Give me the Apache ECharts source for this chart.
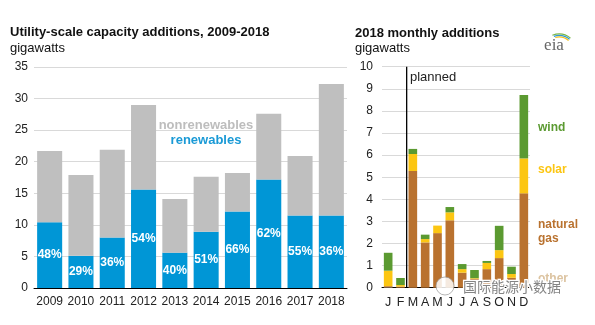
<!DOCTYPE html>
<html><head><meta charset="utf-8">
<script src="https://cdn.jsdelivr.net/npm/echarts@6/dist/echarts.min.js"></script>
<style>html,body{margin:0;padding:0;background:#fff}#c{width:595px;height:325px}</style>
</head><body><div id="c"></div>
<script>
// ---- Left chart data (gigawatts) ----
const years = ['2009','2010','2011','2012','2013','2014','2015','2016','2017','2018'];
const renewables = [10.4, 5.1, 8.0, 15.6, 5.6, 8.9, 12.1, 17.2, 11.5, 11.5];
const nonrenewables = [11.3, 12.8, 13.9, 13.4, 8.5, 8.7, 6.1, 10.4, 9.4, 20.8];
const renewableShare = [48, 29, 36, 54, 40, 51, 66, 62, 55, 36];

// ---- Right chart data (gigawatts) ----
const months = ['J','F','M','A','M','J','J','A','S','O','N','D'];
const other = [0.02, 0.0, 0.0, 0.0, 0.0, 0.0, 0.0, 0.0, 0.0, 0.0, 0.05, 0.0];
const naturalGas = [0.05, 0.05, 5.28, 2.05, 2.47, 3.05, 0.68, 0.40, 0.84, 1.34, 0.40, 4.27];
const solar = [0.70, 0.07, 0.77, 0.15, 0.34, 0.36, 0.16, 0.03, 0.28, 0.36, 0.17, 1.58];
const wind = [0.81, 0.32, 0.23, 0.20, 0.00, 0.24, 0.23, 0.37, 0.09, 1.10, 0.33, 2.87];
const plannedFrom = 2; // planned additions start with March (month index 2)

const FONT = '"Liberation Sans", Arial, sans-serif';
const BLUE = '#0096d6', GRAY = '#bfbfbf';
const GAS = '#b9722f', SOLAR = '#fcc612', WIND = '#5b9a31', OTHER = '#dcc3a0';

const chart = echarts.init(document.getElementById('c'), null, {renderer: 'canvas'});

const catAxisCommon = {
  type: 'category',
  axisLine: {lineStyle: {color: '#000', width: 1}},
  axisTick: {show: false},
  axisLabel: {color: '#222', fontSize: 12, fontFamily: FONT, margin: 8, interval: 0},
};
const valAxisCommon = {
  type: 'value',
  axisLine: {show: false},
  axisTick: {show: false},
  splitLine: {lineStyle: {color: '#d9d9d9', width: 1}},
};

chart.setOption({
  animation: false,
  textStyle: {fontFamily: FONT},
  grid: [
    {left: 34, top: 67, width: 313, height: 221},
    {left: 382, top: 66.7, width: 148, height: 221}
  ],
  xAxis: [
    Object.assign({}, catAxisCommon, {gridIndex: 0, data: years}),
    Object.assign({}, catAxisCommon, {gridIndex: 1, data: months,
      axisLabel: Object.assign({}, catAxisCommon.axisLabel, {fontSize: 12.5})}),
    {type: 'value', gridIndex: 1, min: 0, max: months.length, show: false}
  ],
  yAxis: [
    Object.assign({}, valAxisCommon, {gridIndex: 0, min: 0, max: 35, interval: 5,
      axisLabel: {color: '#222', fontSize: 12, fontFamily: FONT, margin: 6}}),
    Object.assign({}, valAxisCommon, {gridIndex: 1, min: 0, max: 10, interval: 1,
      axisLabel: {color: '#222', fontSize: 12, fontFamily: FONT, margin: 9}})
  ],
  series: [
    {type: 'bar', name: 'renewables', xAxisIndex: 0, yAxisIndex: 0, stack: 'a',
      barWidth: '80%', data: renewables, itemStyle: {color: BLUE},
      label: {show: true, position: 'inside', color: '#fff', fontWeight: 'bold', fontSize: 12,
        fontFamily: FONT, formatter: p => renewableShare[p.dataIndex] + '%'}},
    {type: 'bar', name: 'nonrenewables', xAxisIndex: 0, yAxisIndex: 0, stack: 'a',
      barWidth: '80%', data: nonrenewables, itemStyle: {color: GRAY}},
    {type: 'bar', name: 'other', xAxisIndex: 1, yAxisIndex: 1, stack: 'm',
      barWidth: '70%', data: other, itemStyle: {color: OTHER}},
    {type: 'bar', name: 'natural gas', xAxisIndex: 1, yAxisIndex: 1, stack: 'm',
      barWidth: '70%', data: naturalGas, itemStyle: {color: GAS}},
    {type: 'bar', name: 'solar', xAxisIndex: 1, yAxisIndex: 1, stack: 'm',
      barWidth: '70%', data: solar, itemStyle: {color: SOLAR}},
    {type: 'bar', name: 'wind', xAxisIndex: 1, yAxisIndex: 1, stack: 'm',
      barWidth: '70%', data: wind, itemStyle: {color: WIND}},
    {type: 'line', name: 'planned', xAxisIndex: 2, yAxisIndex: 1, symbol: 'none',
      data: [[plannedFrom, 0], [plannedFrom, 10]], lineStyle: {color: '#000', width: 1.3}, z: 5}
  ],
  graphic: [
    {type: 'text', left: 10, top: 26, style: {text: 'Utility-scale capacity additions, 2009-2018',
      font: 'bold 13px ' + FONT, fill: '#111'}},
    {type: 'text', left: 10, top: 42, style: {text: 'gigawatts', font: '13px ' + FONT, fill: '#111'}},
    {type: 'text', left: 355, top: 27, style: {text: '2018 monthly additions',
      font: 'bold 13px ' + FONT, fill: '#111'}},
    {type: 'text', left: 355, top: 42, style: {text: 'gigawatts', font: '13px ' + FONT, fill: '#111'}},
    {type: 'text', x: 206, y: 125, style: {text: 'nonrenewables', font: 'bold 13px ' + FONT,
      fill: '#bdbdbd', align: 'center', verticalAlign: 'middle'}},
    {type: 'text', x: 206, y: 140, style: {text: 'renewables', font: 'bold 13px ' + FONT,
      fill: '#1a9ad6', align: 'center', verticalAlign: 'middle'}},
    {type: 'text', x: 410, y: 77.5, style: {text: 'planned', font: '13px ' + FONT,
      fill: '#222', verticalAlign: 'middle'}},
    {type: 'text', x: 538, y: 127.5, style: {text: 'wind', font: 'bold 12px ' + FONT,
      fill: WIND, verticalAlign: 'middle'}},
    {type: 'text', x: 538, y: 169.5, style: {text: 'solar', font: 'bold 12px ' + FONT,
      fill: SOLAR, verticalAlign: 'middle'}},
    {type: 'text', x: 538, y: 224.5, style: {text: 'natural', font: 'bold 12px ' + FONT,
      fill: GAS, verticalAlign: 'middle'}},
    {type: 'text', x: 538, y: 239, style: {text: 'gas', font: 'bold 12px ' + FONT,
      fill: GAS, verticalAlign: 'middle'}},
    {type: 'text', x: 538, y: 279, style: {text: 'other', font: 'bold 12px ' + FONT,
      fill: OTHER, verticalAlign: 'middle'}},
    // eia logo
    {type: 'text', x: 554, y: 46, style: {text: 'eia', font: '17px "Liberation Serif", "DejaVu Serif", serif',
      fill: '#666', align: 'center', verticalAlign: 'middle'}},
    {type: 'arc', shape: {cx: 559, cy: 52, r: 18, startAngle: -Math.PI * 0.62, endAngle: -Math.PI * 0.28},
      style: {stroke: '#7ab648', lineWidth: 1.2, fill: null}},
    {type: 'arc', shape: {cx: 559, cy: 52, r: 16.5, startAngle: -Math.PI * 0.6, endAngle: -Math.PI * 0.28},
      style: {stroke: '#2e9ad6', lineWidth: 1.2, fill: null}},
    {type: 'arc', shape: {cx: 559, cy: 52, r: 15, startAngle: -Math.PI * 0.58, endAngle: -Math.PI * 0.28},
      style: {stroke: '#f4c020', lineWidth: 1.2, fill: null}},
    // watermark
    {type: 'circle', shape: {cx: 445, cy: 286, r: 9}, style: {fill: 'rgba(255,255,255,0.85)',
      stroke: 'rgba(150,150,150,0.7)', lineWidth: 1}, z: 10},
    {type: 'text', x: 463, y: 287, z: 10, style: {text: '国际能源小数据',
      font: '14px "Noto Sans CJK SC", sans-serif', fill: 'rgba(110,110,110,0.85)',
      stroke: '#fff', lineWidth: 2.5, verticalAlign: 'middle'}}
  ]
});
</script>
</body></html>
